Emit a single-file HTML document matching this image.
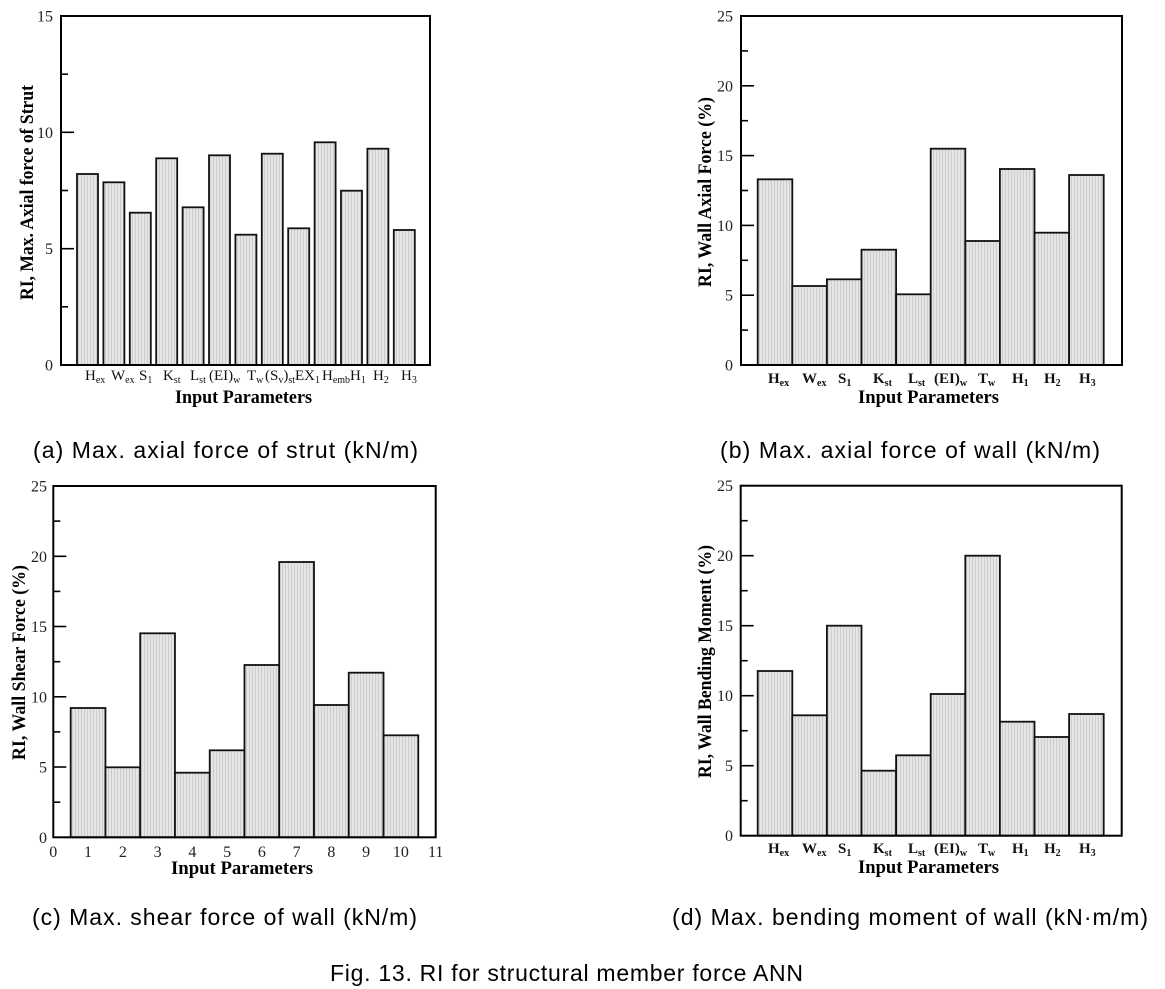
<!DOCTYPE html>
<html>
<head>
<meta charset="utf-8">
<style>
html,body{margin:0;padding:0;background:#fff;}
svg{display:block;}
.tk{font-family:"Liberation Serif",serif;font-size:16px;fill:#222;}
.ttl{font-family:"Liberation Serif",serif;font-size:19px;font-weight:bold;fill:#000;}
.lba{font-family:"Liberation Serif",serif;font-size:15px;fill:#111;}
.lbb{font-family:"Liberation Serif",serif;font-size:15px;font-weight:bold;fill:#111;}
.cap{font-family:"Liberation Sans","Noto Sans CJK KR",sans-serif;font-size:23px;fill:#000;}
.bar{fill:url(#hatch);stroke:#111;stroke-width:1.8;}
.frm{fill:none;stroke:#000;stroke-width:2;}
.tkl{stroke:#000;stroke-width:1.6;}
</style>
</head>
<body>
<svg width="1165" height="989" viewBox="0 0 1165 989" xmlns="http://www.w3.org/2000/svg">
<defs>
<pattern id="hatch" patternUnits="userSpaceOnUse" width="3" height="10">
<rect x="0" y="0" width="3" height="10" fill="#e5e5e5"/>
<rect x="0" y="0" width="1" height="10" fill="#cdcdcd"/>
</pattern>
</defs>
<rect x="0" y="0" width="1165" height="989" fill="#fff"/>

<!-- Panel (a) -->
<g>
<rect class="bar" x="77" y="174" width="21" height="191"/>
<rect class="bar" x="103.4" y="182.3" width="21" height="182.7"/>
<rect class="bar" x="129.8" y="212.7" width="21" height="152.3"/>
<rect class="bar" x="156.2" y="158.3" width="21" height="206.7"/>
<rect class="bar" x="182.6" y="207.3" width="21" height="157.7"/>
<rect class="bar" x="209" y="155.3" width="21" height="209.7"/>
<rect class="bar" x="235.4" y="234.7" width="21" height="130.3"/>
<rect class="bar" x="261.8" y="153.7" width="21" height="211.3"/>
<rect class="bar" x="288.2" y="228.3" width="21" height="136.7"/>
<rect class="bar" x="314.6" y="142.3" width="21" height="222.7"/>
<rect class="bar" x="341" y="190.7" width="21" height="174.3"/>
<rect class="bar" x="367.4" y="148.7" width="21" height="216.3"/>
<rect class="bar" x="393.8" y="230" width="21" height="135"/>
<rect class="frm" x="61" y="16" width="369" height="349"/>
<line class="tkl" x1="61" y1="248.7" x2="74" y2="248.7"/>
<line class="tkl" x1="61" y1="132.3" x2="74" y2="132.3"/>
<line class="tkl" x1="61" y1="306.8" x2="68" y2="306.8"/>
<line class="tkl" x1="61" y1="190.5" x2="68" y2="190.5"/>
<line class="tkl" x1="61" y1="74.2" x2="68" y2="74.2"/>
<text class="tk" x="53" y="21.5" text-anchor="end">15</text>
<text class="tk" x="53" y="137.8" text-anchor="end">10</text>
<text class="tk" x="53" y="254.2" text-anchor="end">5</text>
<text class="tk" x="53" y="370.5" text-anchor="end">0</text>
<text class="lba" x="85" y="380">H<tspan font-size="10" dy="3">ex</tspan></text>
<text class="lba" x="111" y="380">W<tspan font-size="10" dy="3">ex</tspan></text>
<text class="lba" x="139" y="380">S<tspan font-size="10" dy="3">1</tspan></text>
<text class="lba" x="163" y="380">K<tspan font-size="10" dy="3">st</tspan></text>
<text class="lba" x="190" y="380">L<tspan font-size="10" dy="3">st</tspan></text>
<text class="lba" x="209" y="380">(EI)<tspan font-size="10" dy="3">w</tspan></text>
<text class="lba" x="247" y="380">T<tspan font-size="10" dy="3">w</tspan></text>
<text class="lba" x="265" y="380">(S<tspan font-size="10" dy="3">v</tspan><tspan dy="-3">)</tspan><tspan font-size="10" dy="3">st</tspan></text>
<text class="lba" x="295" y="380">EX<tspan font-size="10" dy="3">1</tspan></text>
<text class="lba" x="322" y="380">H<tspan font-size="10" dy="3">emb</tspan></text>
<text class="lba" x="350" y="380">H<tspan font-size="10" dy="3">1</tspan></text>
<text class="lba" x="373" y="380">H<tspan font-size="10" dy="3">2</tspan></text>
<text class="lba" x="401" y="380">H<tspan font-size="10" dy="3">3</tspan></text>
<text class="ttl" x="243.5" y="403" text-anchor="middle" textLength="137" lengthAdjust="spacingAndGlyphs">Input Parameters</text>
<text class="ttl" transform="translate(33,192.5) rotate(-90)" x="0" y="0" text-anchor="middle" textLength="215" lengthAdjust="spacingAndGlyphs">RI, Max. Axial force of Strut</text>
</g>

<!-- Panel (b) -->
<g>
<rect class="bar" x="757.7" y="179.3" width="34.6" height="185.7"/>
<rect class="bar" x="792.3" y="286" width="34.6" height="79"/>
<rect class="bar" x="826.9" y="279.3" width="34.6" height="85.7"/>
<rect class="bar" x="861.5" y="249.7" width="34.6" height="115.3"/>
<rect class="bar" x="896.1" y="294.3" width="34.6" height="70.7"/>
<rect class="bar" x="930.7" y="148.7" width="34.6" height="216.3"/>
<rect class="bar" x="965.3" y="241" width="34.6" height="124"/>
<rect class="bar" x="999.9" y="169" width="34.6" height="196"/>
<rect class="bar" x="1034.5" y="232.7" width="34.6" height="132.3"/>
<rect class="bar" x="1069.1" y="175" width="34.6" height="190"/>
<rect class="frm" x="741" y="16" width="381" height="349"/>
<line class="tkl" x1="741" y1="295.2" x2="754" y2="295.2"/>
<line class="tkl" x1="741" y1="225.4" x2="754" y2="225.4"/>
<line class="tkl" x1="741" y1="155.6" x2="754" y2="155.6"/>
<line class="tkl" x1="741" y1="85.8" x2="754" y2="85.8"/>
<line class="tkl" x1="741" y1="330.1" x2="748" y2="330.1"/>
<line class="tkl" x1="741" y1="260.3" x2="748" y2="260.3"/>
<line class="tkl" x1="741" y1="190.5" x2="748" y2="190.5"/>
<line class="tkl" x1="741" y1="120.7" x2="748" y2="120.7"/>
<line class="tkl" x1="741" y1="50.9" x2="748" y2="50.9"/>
<text class="tk" x="733" y="21.5" text-anchor="end">25</text>
<text class="tk" x="733" y="91.3" text-anchor="end">20</text>
<text class="tk" x="733" y="161.1" text-anchor="end">15</text>
<text class="tk" x="733" y="230.9" text-anchor="end">10</text>
<text class="tk" x="733" y="300.7" text-anchor="end">5</text>
<text class="tk" x="733" y="370.5" text-anchor="end">0</text>
<text class="lbb" x="768" y="383">H<tspan font-size="10" dy="3">ex</tspan></text>
<text class="lbb" x="802" y="383">W<tspan font-size="10" dy="3">ex</tspan></text>
<text class="lbb" x="838" y="383">S<tspan font-size="10" dy="3">1</tspan></text>
<text class="lbb" x="873" y="383">K<tspan font-size="10" dy="3">st</tspan></text>
<text class="lbb" x="908" y="383">L<tspan font-size="10" dy="3">st</tspan></text>
<text class="lbb" x="934" y="383">(EI)<tspan font-size="10" dy="3">w</tspan></text>
<text class="lbb" x="978" y="383">T<tspan font-size="10" dy="3">w</tspan></text>
<text class="lbb" x="1012" y="383">H<tspan font-size="10" dy="3">1</tspan></text>
<text class="lbb" x="1044" y="383">H<tspan font-size="10" dy="3">2</tspan></text>
<text class="lbb" x="1079" y="383">H<tspan font-size="10" dy="3">3</tspan></text>
<text class="ttl" x="928.5" y="403" text-anchor="middle" textLength="141" lengthAdjust="spacingAndGlyphs">Input Parameters</text>
<text class="ttl" transform="translate(711,192) rotate(-90)" x="0" y="0" text-anchor="middle" textLength="190" lengthAdjust="spacingAndGlyphs">RI, Wall Axial Force (%)</text>
</g>

<!-- Panel (c) -->
<g>
<rect class="bar" x="70.68" y="708" width="34.76" height="129.3"/>
<rect class="bar" x="105.44" y="767.3" width="34.76" height="70"/>
<rect class="bar" x="140.2" y="633.3" width="34.76" height="204"/>
<rect class="bar" x="174.96" y="772.7" width="34.76" height="64.6"/>
<rect class="bar" x="209.72" y="750.3" width="34.76" height="87"/>
<rect class="bar" x="244.48" y="665" width="34.76" height="172.3"/>
<rect class="bar" x="279.24" y="562" width="34.76" height="275.3"/>
<rect class="bar" x="314" y="705" width="34.76" height="132.3"/>
<rect class="bar" x="348.76" y="672.7" width="34.76" height="164.6"/>
<rect class="bar" x="383.52" y="735.3" width="34.76" height="102"/>
<rect class="frm" x="53.3" y="486" width="382.4" height="351.3"/>
<line class="tkl" x1="53.3" y1="767" x2="66.3" y2="767"/>
<line class="tkl" x1="53.3" y1="696.8" x2="66.3" y2="696.8"/>
<line class="tkl" x1="53.3" y1="626.5" x2="66.3" y2="626.5"/>
<line class="tkl" x1="53.3" y1="556.3" x2="66.3" y2="556.3"/>
<line class="tkl" x1="53.3" y1="802.2" x2="60.3" y2="802.2"/>
<line class="tkl" x1="53.3" y1="731.9" x2="60.3" y2="731.9"/>
<line class="tkl" x1="53.3" y1="661.7" x2="60.3" y2="661.7"/>
<line class="tkl" x1="53.3" y1="591.4" x2="60.3" y2="591.4"/>
<line class="tkl" x1="53.3" y1="521.1" x2="60.3" y2="521.1"/>
<text class="tk" x="47" y="491.5" text-anchor="end">25</text>
<text class="tk" x="47" y="561.8" text-anchor="end">20</text>
<text class="tk" x="47" y="632" text-anchor="end">15</text>
<text class="tk" x="47" y="702.3" text-anchor="end">10</text>
<text class="tk" x="47" y="772.5" text-anchor="end">5</text>
<text class="tk" x="47" y="842.8" text-anchor="end">0</text>
<text class="tk" x="53.3" y="857" text-anchor="middle">0</text>
<text class="tk" x="88.06" y="857" text-anchor="middle">1</text>
<text class="tk" x="122.82" y="857" text-anchor="middle">2</text>
<text class="tk" x="157.58" y="857" text-anchor="middle">3</text>
<text class="tk" x="192.34" y="857" text-anchor="middle">4</text>
<text class="tk" x="227.1" y="857" text-anchor="middle">5</text>
<text class="tk" x="261.86" y="857" text-anchor="middle">6</text>
<text class="tk" x="296.62" y="857" text-anchor="middle">7</text>
<text class="tk" x="331.38" y="857" text-anchor="middle">8</text>
<text class="tk" x="366.14" y="857" text-anchor="middle">9</text>
<text class="tk" x="400.9" y="857" text-anchor="middle">10</text>
<text class="tk" x="435.66" y="857" text-anchor="middle">11</text>
<text class="ttl" x="242" y="874" text-anchor="middle" textLength="142" lengthAdjust="spacingAndGlyphs">Input Parameters</text>
<text class="ttl" transform="translate(25,662.5) rotate(-90)" x="0" y="0" text-anchor="middle" textLength="195" lengthAdjust="spacingAndGlyphs">RI, Wall Shear Force (%)</text>
</g>

<!-- Panel (d) -->
<g>
<rect class="bar" x="757.7" y="671" width="34.6" height="164.7"/>
<rect class="bar" x="792.3" y="715.3" width="34.6" height="120.4"/>
<rect class="bar" x="826.9" y="625.7" width="34.6" height="210"/>
<rect class="bar" x="861.5" y="770.7" width="34.6" height="65"/>
<rect class="bar" x="896.1" y="755.3" width="34.6" height="80.4"/>
<rect class="bar" x="930.7" y="694" width="34.6" height="141.7"/>
<rect class="bar" x="965.3" y="555.7" width="34.6" height="280"/>
<rect class="bar" x="999.9" y="721.7" width="34.6" height="114"/>
<rect class="bar" x="1034.5" y="737" width="34.6" height="98.7"/>
<rect class="bar" x="1069.1" y="714" width="34.6" height="121.7"/>
<rect class="frm" x="740.7" y="485.7" width="381" height="350"/>
<line class="tkl" x1="740.7" y1="765.7" x2="753.7" y2="765.7"/>
<line class="tkl" x1="740.7" y1="695.7" x2="753.7" y2="695.7"/>
<line class="tkl" x1="740.7" y1="625.7" x2="753.7" y2="625.7"/>
<line class="tkl" x1="740.7" y1="555.7" x2="753.7" y2="555.7"/>
<line class="tkl" x1="740.7" y1="800.7" x2="747.7" y2="800.7"/>
<line class="tkl" x1="740.7" y1="730.7" x2="747.7" y2="730.7"/>
<line class="tkl" x1="740.7" y1="660.7" x2="747.7" y2="660.7"/>
<line class="tkl" x1="740.7" y1="590.7" x2="747.7" y2="590.7"/>
<line class="tkl" x1="740.7" y1="520.7" x2="747.7" y2="520.7"/>
<text class="tk" x="733" y="491.2" text-anchor="end">25</text>
<text class="tk" x="733" y="561.2" text-anchor="end">20</text>
<text class="tk" x="733" y="631.2" text-anchor="end">15</text>
<text class="tk" x="733" y="701.2" text-anchor="end">10</text>
<text class="tk" x="733" y="771.2" text-anchor="end">5</text>
<text class="tk" x="733" y="841.2" text-anchor="end">0</text>
<text class="lbb" x="768" y="853">H<tspan font-size="10" dy="3">ex</tspan></text>
<text class="lbb" x="802" y="853">W<tspan font-size="10" dy="3">ex</tspan></text>
<text class="lbb" x="838" y="853">S<tspan font-size="10" dy="3">1</tspan></text>
<text class="lbb" x="873" y="853">K<tspan font-size="10" dy="3">st</tspan></text>
<text class="lbb" x="908" y="853">L<tspan font-size="10" dy="3">st</tspan></text>
<text class="lbb" x="934" y="853">(EI)<tspan font-size="10" dy="3">w</tspan></text>
<text class="lbb" x="978" y="853">T<tspan font-size="10" dy="3">w</tspan></text>
<text class="lbb" x="1012" y="853">H<tspan font-size="10" dy="3">1</tspan></text>
<text class="lbb" x="1044" y="853">H<tspan font-size="10" dy="3">2</tspan></text>
<text class="lbb" x="1079" y="853">H<tspan font-size="10" dy="3">3</tspan></text>
<text class="ttl" x="928.5" y="873" text-anchor="middle" textLength="141" lengthAdjust="spacingAndGlyphs">Input Parameters</text>
<text class="ttl" transform="translate(711,661.5) rotate(-90)" x="0" y="0" text-anchor="middle" textLength="233" lengthAdjust="spacingAndGlyphs">RI, Wall Bending Moment (%)</text>
</g>

<!-- Captions -->
<text class="cap" x="33" y="458" textLength="385" lengthAdjust="spacing">(a) Max. axial force of strut (kN/m)</text>
<text class="cap" x="720" y="458" textLength="380" lengthAdjust="spacing">(b) Max. axial force of wall (kN/m)</text>
<text class="cap" x="32" y="925" textLength="385" lengthAdjust="spacing">(c) Max. shear force of wall (kN/m)</text>
<text class="cap" x="672" y="925" textLength="476" lengthAdjust="spacing">(d) Max. bending moment of wall (kN·m/m)</text>
<text class="cap" x="330" y="981" textLength="473" lengthAdjust="spacing">Fig. 13. RI for structural member force ANN</text>
</svg>
</body>
</html>
